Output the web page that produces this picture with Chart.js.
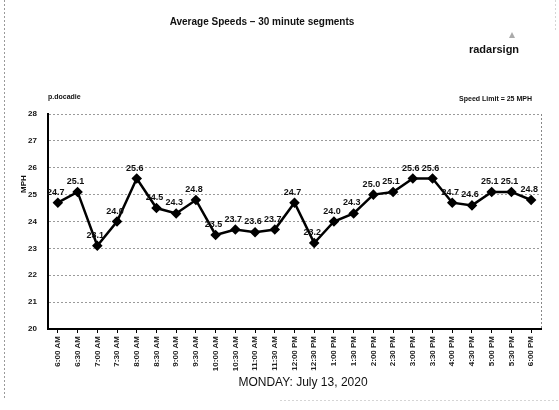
<!DOCTYPE html>
<html>
<head>
<meta charset="utf-8">
<script src="https://cdn.jsdelivr.net/npm/chart.js@4/dist/chart.umd.min.js"></script>
<style>
  html, body { margin: 0; padding: 0; background: #fff; }
  #wrap { width: 559px; height: 410px; position: relative; }
</style>
</head>
<body>
<div id="wrap"><canvas id="c" width="559" height="410"></canvas></div>
<script>
const timeLabels = ["6:00 AM","6:30 AM","7:00 AM","7:30 AM","8:00 AM","8:30 AM","9:00 AM","9:30 AM","10:00 AM","10:30 AM","11:00 AM","11:30 AM","12:00 PM","12:30 PM","1:00 PM","1:30 PM","2:00 PM","2:30 PM","3:00 PM","3:30 PM","4:00 PM","4:30 PM","5:00 PM","5:30 PM","6:00 PM"];
const avgSpeeds = [24.7, 25.1, 23.1, 24.0, 25.6, 24.5, 24.3, 24.8, 23.5, 23.7, 23.6, 23.7, 24.7, 23.2, 24.0, 24.3, 25.0, 25.1, 25.6, 25.6, 24.7, 24.6, 25.1, 25.1, 24.8];
const yTicks = [20, 21, 22, 23, 24, 25, 26, 27, 28];
const chartTitle = "Average Speeds \u2013 30 minute segments";
const xTitle = "MONDAY: July 13, 2020";
const yTitle = "MPH";
const brand = "radarsign";
const topLeftNote = "p.docadie";
const speedLimitNote = "Speed Limit = 25 MPH";

const narrow = "'Liberation Sans Narrow', 'Liberation Sans', Arial, sans-serif";
const sans = "'Liberation Sans', Arial, sans-serif";

const decorPlugin = {
  id: 'decor',
  beforeDraw(chart) {
    const ctx = chart.ctx;
    ctx.save();
    ctx.fillStyle = '#fff';
    ctx.fillRect(0, 0, chart.width, chart.height);
    ctx.strokeStyle = '#9a9a9a';
    ctx.lineWidth = 1;
    ctx.setLineDash([2, 2]);
    ctx.beginPath(); ctx.moveTo(4.5, 0); ctx.lineTo(4.5, 400); ctx.stroke();
    ctx.strokeStyle = '#d5d5d5';
    ctx.beginPath(); ctx.moveTo(555.5, 0); ctx.lineTo(555.5, 30); ctx.stroke();
    ctx.beginPath(); ctx.moveTo(280, 400.5); ctx.lineTo(559, 400.5); ctx.stroke();
    ctx.restore();
  },
  afterDraw(chart) {
    const ctx = chart.ctx;
    const a = chart.chartArea;
    ctx.save();
    ctx.strokeStyle = '#888';
    ctx.lineWidth = 1;
    ctx.setLineDash([2, 2]);
    ctx.beginPath(); ctx.moveTo(a.right + 0.5, a.top); ctx.lineTo(a.right + 0.5, a.bottom); ctx.stroke();
    ctx.setLineDash([]);
    ctx.fillStyle = '#111';
    ctx.textBaseline = 'middle';
    ctx.textAlign = 'center';
    ctx.font = "bold 10px " + sans;
    ctx.fillText(chartTitle, 262, 22);
    ctx.font = "bold 11px " + narrow;
    ctx.fillText(brand, 494, 50);
    ctx.fillStyle = '#aaa';
    ctx.beginPath(); ctx.moveTo(512, 32); ctx.lineTo(515, 38); ctx.lineTo(509, 38); ctx.closePath(); ctx.fill();
    ctx.fillStyle = '#111';
    ctx.font = "bold 7px " + narrow;
    ctx.textAlign = 'left';
    ctx.fillText(topLeftNote, 48, 97);
    ctx.textAlign = 'right';
    ctx.fillText(speedLimitNote, 532, 99);
    ctx.textAlign = 'center';
    ctx.font = "12px " + sans;
    ctx.fillText(xTitle, 303, 383);
    ctx.save();
    ctx.translate(24, 184);
    ctx.rotate(-Math.PI / 2);
    ctx.font = "bold 8px " + narrow;
    ctx.fillText(yTitle, 0, 0);
    ctx.restore();
    ctx.restore();
  },
  afterDatasetsDraw(chart) {
    const ctx = chart.ctx;
    const meta = chart.getDatasetMeta(0);
    const data = chart.data.datasets[0].data;
    ctx.save();
    ctx.fillStyle = '#111';
    ctx.font = "bold 9px " + narrow;
    ctx.textAlign = 'center';
    ctx.textBaseline = 'alphabetic';
    meta.data.forEach((pt, i) => {
      ctx.fillText(data[i].toFixed(1), pt.x - 2, pt.y - 8);
    });
    ctx.restore();
  }
};

new Chart(document.getElementById('c'), {
  type: 'line',
  data: {
    labels: timeLabels,
    datasets: [{
      data: avgSpeeds,
      borderColor: '#000',
      backgroundColor: '#000',
      borderWidth: 2.5,
      tension: 0,
      pointStyle: 'rectRot',
      pointRadius: 3.5,
      pointBackgroundColor: '#000',
      pointBorderColor: '#000',
      fill: false
    }]
  },
  options: {
    responsive: false,
    animation: false,
    devicePixelRatio: 1,
    layout: { padding: { top: 114, right: 18, left: 0, bottom: 0 } },
    plugins: {
      legend: { display: false },
      title: { display: false },
      tooltip: { enabled: false }
    },
    scales: {
      x: {
        type: 'category',
        offset: true,
        afterFit(scale) { scale.height = 81; },
        grid: { display: true, drawOnChartArea: false, drawTicks: true, tickLength: 4, color: '#000', lineWidth: 1 },
        border: { display: true, color: '#000', width: 2 },
        ticks: {
          autoSkip: false, maxRotation: 90, minRotation: 90, padding: 3,
          color: '#222', font: { family: narrow, size: 8, weight: 'bold' }
        }
      },
      y: {
        min: yTicks[0],
        max: yTicks[yTicks.length - 1],
        afterFit(scale) { scale.width = 48; },
        afterBuildTicks(scale) { scale.ticks = yTicks.map(v => ({ value: v })); },
        grid: { display: true, drawTicks: false, color: '#9a9a9a', lineWidth: 1 },
        border: { display: true, color: '#000', width: 2, dash: [2, 2] },
        ticks: {
          padding: 11, color: '#111',
          font: { family: narrow, size: 8, weight: 'bold' }
        }
      }
    }
  },
  plugins: [decorPlugin]
});
</script>
</body>
</html>
